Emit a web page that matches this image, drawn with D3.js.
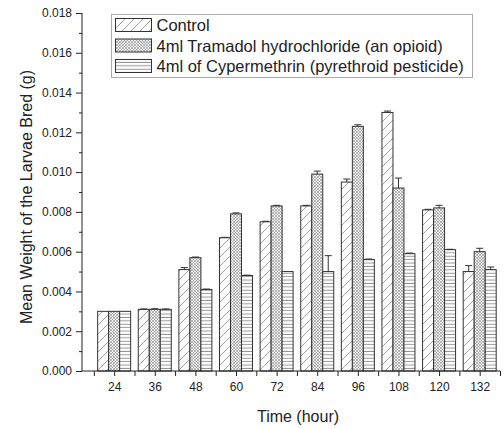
<!DOCTYPE html>
<html><head><meta charset="utf-8">
<script src="https://cdnjs.cloudflare.com/ajax/libs/d3/7.8.5/d3.min.js"></script>
<style>body{margin:0;background:#fff}svg{display:block;font-family:"Liberation Sans",Arial,sans-serif}</style>
</head><body><svg id="c" width="504" height="429"></svg>
<script>
const categories = [24, 36, 48, 60, 72, 84, 96, 108, 120, 132];
const seriesNames = ["Control", "4ml Tramadol hydrochloride (an opioid)", "4ml of Cypermethrin (pyrethroid pesticide)"];
const control     = [0.0030, 0.0031, 0.0051, 0.0067, 0.0075, 0.0083, 0.0095, 0.0130, 0.0081, 0.0050];
const tramadol    = [0.0030, 0.0031, 0.0057, 0.0079, 0.0083, 0.0099, 0.0123, 0.0092, 0.0082, 0.0060];
const cypermeth   = [0.0030, 0.0031, 0.0041, 0.0048, 0.0050, 0.0050, 0.0056, 0.0059, 0.0061, 0.0051];
const controlErr  = [0.00000, 0.00002, 0.00010, 0.00002, 0.00003, 0.00003, 0.00015, 0.00007, 0.00003, 0.00030];
const tramadolErr = [0.00000, 0.00003, 0.00003, 0.00005, 0.00003, 0.00015, 0.00008, 0.00050, 0.00013, 0.00017];
const cyperErr    = [0.00000, 0.00002, 0.00002, 0.00002, 0.00000, 0.00080, 0.00003, 0.00003, 0.00002, 0.00013];
const yTicks = [0, 0.002, 0.004, 0.006, 0.008, 0.010, 0.012, 0.014, 0.016, 0.018];
const yMinor = [0.001, 0.003, 0.005, 0.007, 0.009, 0.011, 0.013, 0.015, 0.017];
const xMinor = [18, 30, 42, 54, 66, 78, 90, 102, 114, 126, 138];

const series = [control, tramadol, cypermeth];
const errs = [controlErr, tramadolErr, cyperErr];
const patterns = ["pC", "pT", "pY"];

const svg = d3.select("#c");
const x = d3.scaleLinear().domain([14.5, 138]).range([82, 500]);
const y = d3.scaleLinear().domain([0, 0.018]).range([371, 13]);
const barW = 3.25; // hours

const defs = svg.append("defs");
const p1 = defs.append("pattern").attr("id","pC").attr("patternUnits","userSpaceOnUse").attr("width",9).attr("height",9);
p1.append("rect").attr("width",9).attr("height",9).attr("fill","#fff");
p1.append("path").attr("d","M-1,10 L10,-1 M-2,2 L2,-2 M7,11 L11,7").attr("stroke","#8a8a8a").attr("stroke-width",0.8);
const p2 = defs.append("pattern").attr("id","pT").attr("patternUnits","userSpaceOnUse").attr("width",3).attr("height",3);
p2.append("rect").attr("width",3).attr("height",3).attr("fill","#f2f2f2");
p2.append("path").attr("d","M0,0 L3,3 M3,0 L0,3").attr("stroke","#8c8c8c").attr("stroke-width",0.6);
const p3 = defs.append("pattern").attr("id","pY").attr("patternUnits","userSpaceOnUse").attr("width",6).attr("height",3.4);
p3.append("rect").attr("width",6).attr("height",3.4).attr("fill","#fff");
p3.append("path").attr("d","M0,1.2 L6,1.2").attr("stroke","#8c8c8c").attr("stroke-width",0.9);

// bars
series.forEach((vals, si) => {
  const g = svg.append("g");
  g.selectAll("rect").data(vals).join("rect")
    .attr("x", (d,i) => x(categories[i] + (si - 1.5) * barW))
    .attr("y", d => y(d))
    .attr("width", (d,i) => x(categories[i] + (si - 0.5) * barW) - x(categories[i] + (si - 1.5) * barW))
    .attr("height", d => y(0) - y(d))
    .attr("fill", `url(#${patterns[si]})`)
    .attr("stroke", "#333").attr("stroke-width", 1);
  vals.forEach((v, i) => {
    const e = errs[si][i];
    if (e <= 0) return;
    const cx = x(categories[i] + (si - 1) * barW);
    g.append("line").attr("x1",cx).attr("x2",cx).attr("y1",y(v)).attr("y2",y(v+e)).attr("stroke","#333").attr("stroke-width",1);
    g.append("line").attr("x1",cx-3.5).attr("x2",cx+3.5).attr("y1",y(v+e)).attr("y2",y(v+e)).attr("stroke","#333").attr("stroke-width",1);
  });
});

// axes
const yAxis = d3.axisLeft(y).tickValues(yTicks).tickFormat(d3.format(".3f")).tickSize(6).tickPadding(4);
const gy = svg.append("g").attr("transform","translate(82,0)").call(yAxis);
gy.selectAll("text").attr("font-size","12px").attr("fill","#222");
gy.select(".domain").attr("stroke","#222").attr("d", `M0,${y(0)}V${y(0.018)}`);
gy.selectAll(".tick line").attr("stroke","#222");
svg.append("g").attr("transform","translate(82,0)").call(d3.axisLeft(y).tickValues(yMinor).tickSize(3).tickFormat(""))
  .call(g => { g.select(".domain").remove(); g.selectAll("line").attr("stroke","#222"); });

const xAxis = d3.axisBottom(x).tickValues(categories).tickFormat(d3.format("d")).tickSize(5).tickPadding(6);
const gx = svg.append("g").attr("transform",`translate(0,${y(0)})`).call(xAxis);
gx.selectAll("text").attr("font-size","12px").attr("fill","#222");
gx.select(".domain").attr("stroke","#222").attr("d", `M82,0H500`);
gx.selectAll(".tick line").attr("stroke","#222");
svg.append("g").attr("transform",`translate(0,${y(0)})`).call(d3.axisBottom(x).tickValues(xMinor).tickSize(5).tickFormat(""))
  .call(g => { g.select(".domain").remove(); g.selectAll("line").attr("stroke","#222"); });

// titles
svg.append("text").attr("x", 298).attr("y", 422).attr("text-anchor","middle").attr("font-size","16px").attr("fill","#222").text("Time (hour)");
svg.append("text").attr("transform","translate(32,197) rotate(-90)").attr("text-anchor","middle").attr("font-size","16px").attr("fill","#222").text("Mean Weight of the Larvae Bred (g)");

// legend
const lg = svg.append("g");
lg.append("rect").attr("x",111.5).attr("y",14.5).attr("width",361).attr("height",63).attr("fill","#fff").attr("stroke","#aaa").attr("stroke-width",1);
seriesNames.forEach((name, i) => {
  const by = 31 + i * 20.5;
  lg.append("rect").attr("x",115.5).attr("y",by-12.5).attr("width",36).attr("height",13)
    .attr("fill",`url(#${patterns[i]})`).attr("stroke","#333").attr("stroke-width",1);
  lg.append("text").attr("x",156.5).attr("y",by).attr("font-size","16.5px").attr("fill","#222").text(name);
});
</script></body></html>
